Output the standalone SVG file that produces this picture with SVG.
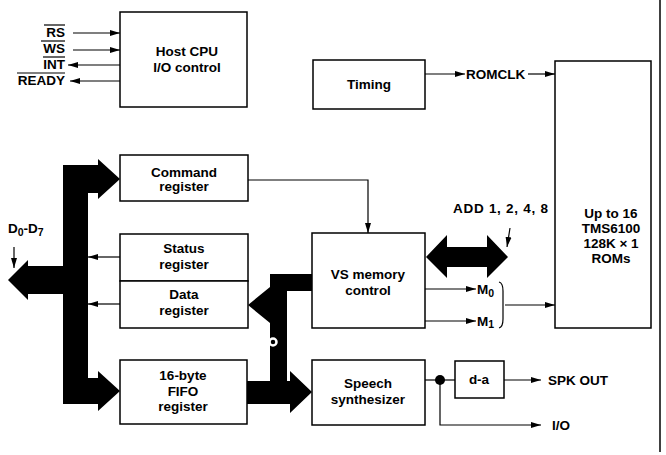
<svg xmlns="http://www.w3.org/2000/svg" width="666" height="455" viewBox="0 0 666 455">
<style>
.box{fill:#fff;stroke:#000;stroke-width:1.5}
.t{font-family:"Liberation Sans",Arial,sans-serif;font-weight:bold;font-size:13.5px;fill:#000}
.c{text-anchor:middle}
.r{text-anchor:end}
.ln{fill:none;stroke:#000;stroke-width:1.2}
.bus{fill:#000;stroke:none}
</style>
<defs>
<marker id="ah" markerUnits="userSpaceOnUse" markerWidth="11" markerHeight="8" refX="10" refY="4" orient="auto">
<path d="M0,1 L10,4 L0,7 Z" fill="#000"/>
</marker>
</defs>
<rect width="666" height="455" fill="#fff"/>

<g id="frame"><line x1="660" y1="0" x2="660" y2="452" stroke="#000" stroke-width="1.5"/></g>

<g id="host-cpu">
<rect class="box" x="120" y="12" width="127" height="95"/>
<text class="t c" x="187" y="56">Host CPU</text>
<text class="t c" x="187" y="72">I/O control</text>
</g>

<g id="signals">
<text class="t r" x="65" y="37">RS</text>
<text class="t r" x="65" y="53">WS</text>
<text class="t r" x="65" y="69">INT</text>
<text class="t r" x="65" y="85">READY</text>
<line class="ln" x1="44" y1="25" x2="65" y2="25"/>
<line class="ln" x1="41" y1="41" x2="65" y2="41"/>
<line class="ln" x1="43" y1="57" x2="65" y2="57"/>
<line class="ln" x1="17" y1="73" x2="65" y2="73"/>
</g>

<g id="timing">
<rect class="box" x="313" y="60" width="112" height="49"/>
<text class="t c" x="369" y="89">Timing</text>
</g>

<g id="roms">
<rect class="box" x="555" y="61" width="96" height="267"/>
<text class="t c" x="611" y="218">Up to 16</text>
<text class="t c" x="611" y="233">TMS6100</text>
<text class="t c" x="611" y="248">128K × 1</text>
<text class="t c" x="611" y="263">ROMs</text>
</g>

<g id="command-register">
<rect class="box" x="120" y="155" width="128" height="46"/>
<text class="t c" x="184" y="177">Command</text>
<text class="t c" x="184" y="191">register</text>
</g>

<g id="status-register">
<rect class="box" x="120" y="234" width="128" height="47"/>
<text class="t c" x="184" y="253">Status</text>
<text class="t c" x="184" y="269">register</text>
</g>

<g id="data-register">
<rect class="box" x="120" y="281" width="128" height="47"/>
<text class="t c" x="184" y="299">Data</text>
<text class="t c" x="184" y="315">register</text>
</g>

<g id="vs-memory-control">
<rect class="box" x="312" y="233" width="113" height="95"/>
<text class="t c" x="368" y="279">VS memory</text>
<text class="t c" x="368" y="295">control</text>
</g>

<g id="fifo-register">
<rect class="box" x="120" y="360" width="127" height="64"/>
<text class="t c" x="183" y="380">16-byte</text>
<text class="t c" x="183" y="396">FIFO</text>
<text class="t c" x="183" y="411">register</text>
</g>

<g id="speech-synthesizer">
<rect class="box" x="312" y="360" width="113" height="65"/>
<text class="t c" x="368" y="388">Speech</text>
<text class="t c" x="368" y="404">synthesizer</text>
</g>

<g id="d-a">
<rect class="box" x="455" y="361" width="49" height="37"/>
<text class="t c" x="479" y="384">d-a</text>
</g>

<g id="connectors">
<path class="bus" d="M63,165 L98,165 L98,159 L120,179 L98,199 L98,193 L88,193 L88,378 L98,378 L98,371 L120,391 L98,411 L98,404 L63,404 L63,294 L28,294 L28,300 L8,280 L28,260 L28,266 L63,266 Z"/>
<path class="bus" d="M312,274 L312,291 L287,291 L287,381 L290,381 L290,371 L312,392 L290,413 L290,404 L247,404 L247,381 L270,381 L270,323 L248,305 L270,287 L270,274 Z"/>
<circle cx="273" cy="342" r="3.5" fill="#000" stroke="#fff" stroke-width="2.5"/>
<path class="bus" d="M426,257 L447,235 L447,247 L487,247 L487,235 L508,257 L487,278 L487,267 L447,267 L447,278 Z"/>

<line class="ln" x1="73" y1="33" x2="120" y2="33" marker-end="url(#ah)"/>
<line class="ln" x1="73" y1="50" x2="120" y2="50" marker-end="url(#ah)"/>
<line class="ln" x1="120" y1="65" x2="68" y2="65" marker-end="url(#ah)"/>
<line class="ln" x1="120" y1="81" x2="70" y2="81" marker-end="url(#ah)"/>

<line class="ln" x1="425" y1="74" x2="465" y2="74" marker-end="url(#ah)"/>
<text class="t" x="466" y="79">ROMCLK</text>
<line class="ln" x1="528" y1="74" x2="555" y2="74" marker-end="url(#ah)"/>

<polyline class="ln" points="248,180 368,180 368,233" marker-end="url(#ah)"/>

<line class="ln" x1="120" y1="257" x2="88" y2="257" marker-end="url(#ah)"/>
<line class="ln" x1="120" y1="304" x2="88" y2="304" marker-end="url(#ah)"/>

<text class="t" x="8" y="233">D<tspan font-size="10.5" dy="3">0</tspan><tspan dy="-3">-D</tspan><tspan font-size="10.5" dy="3">7</tspan></text>
<line class="ln" x1="14" y1="247" x2="14" y2="268" marker-end="url(#ah)"/>

<text class="t" x="453" y="213" textLength="95" lengthAdjust="spacing">ADD 1, 2, 4, 8</text>
<line class="ln" x1="510" y1="228" x2="507" y2="247" marker-end="url(#ah)"/>

<line class="ln" x1="425" y1="289" x2="476" y2="289" marker-end="url(#ah)"/>
<text class="t" x="477" y="294">M<tspan font-size="10.5" dy="3">0</tspan></text>
<line class="ln" x1="425" y1="321" x2="476" y2="321" marker-end="url(#ah)"/>
<text class="t" x="477" y="326">M<tspan font-size="10.5" dy="2">1</tspan></text>
<path class="ln" d="M499,282 Q503,283 503,291 L503,319 Q503,327 499,328"/>
<line class="ln" x1="505" y1="305" x2="555" y2="305" marker-end="url(#ah)"/>

<line class="ln" x1="425" y1="380" x2="455" y2="380"/>
<circle cx="440" cy="380" r="5" fill="#000"/>
<polyline class="ln" points="440,380 440,425 541,425" marker-end="url(#ah)"/>
<text class="t" x="552" y="430">I/O</text>
<line class="ln" x1="504" y1="380" x2="541" y2="380" marker-end="url(#ah)"/>
<text class="t" x="548" y="385">SPK OUT</text>
</g>
</svg>
